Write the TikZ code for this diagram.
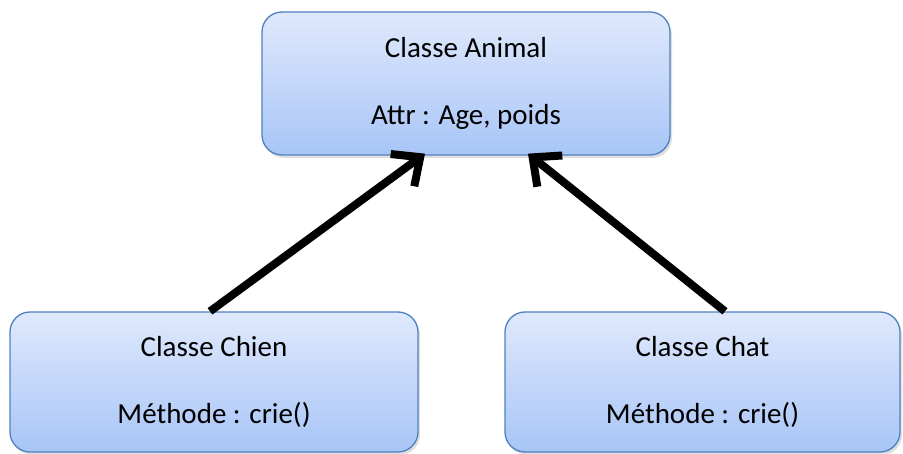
\documentclass[tikz,border=0pt]{standalone}
\usepackage{fontspec}
\setmainfont{Carlito}
\usetikzlibrary{arrows.meta}
\usetikzlibrary{positioning}
\usetikzlibrary{shadows}
\definecolor{boxtop}{RGB}{223,233,252}
\definecolor{boxbottom}{RGB}{168,197,247}
\definecolor{boxline}{RGB}{79,129,189}
\tikzset {
  % class box
  classe/.style = {
    draw = boxline,
    line width = 1.3pt,
    rounded corners = 20pt,
    top color = boxtop,
    bottom color = boxbottom,
    drop shadow = {opacity = 0.25, shadow xshift = 2pt, shadow yshift = -3pt},
    align = center,
    inner sep = 0,
    font = \fontsize{29}{35}\selectfont
  },
  % inheritance arrow
  herite/.style = {
    draw = black,
    line width = 8pt,
    -{Straight Barb[length = 22pt, width = 40pt, line width = 8pt]}
  }
}

\begin{document}
\begin{tikzpicture}[x=1pt, y=-1pt]
    \useasboundingbox (0,0) rectangle (903,454);

    \node[classe, minimum width = 408pt, minimum height = 143pt] (animal) at (466,83.5)
      {Classe Animal\\[32pt]Attr : Age, poids};
    \node[classe, minimum width = 408pt, minimum height = 140pt] (chien) at (214,382)
      {Classe Chien\\[32pt]Méthode : crie()};
    \node[classe, minimum width = 395pt, minimum height = 140pt] (chat) at (702.5,382)
      {Classe Chat\\[32pt]Méthode : crie()};

    \draw[herite] ([xshift=-4pt]chien.north) -- ([xshift=-41pt, yshift=2pt]animal.south);
    \draw[herite] ([xshift=22.5pt]chat.north) -- ([xshift=62pt, yshift=2pt]animal.south);
\end{tikzpicture}
\end{document}
